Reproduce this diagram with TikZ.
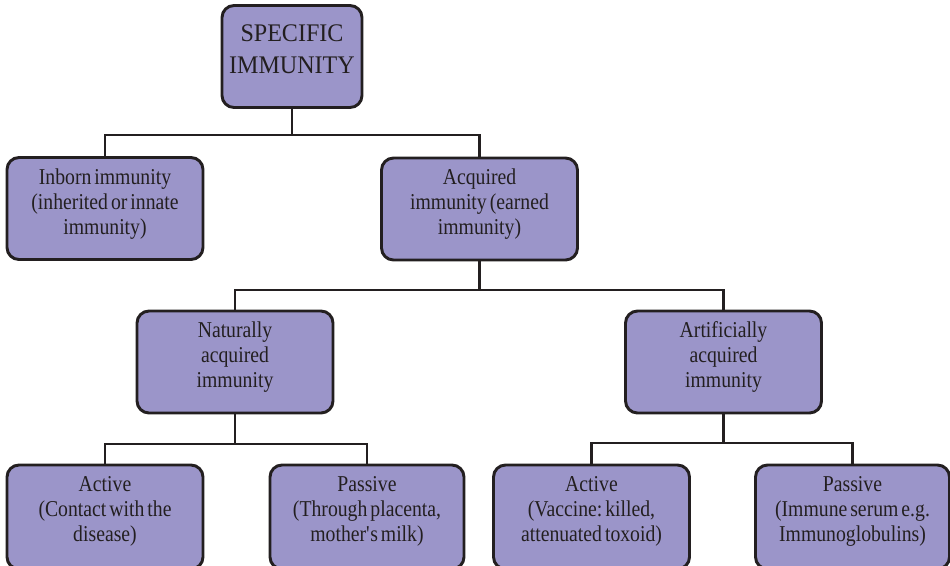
\documentclass[tikz,border=0pt]{standalone}
\usepackage{fontspec}
\setmainfont{Liberation Serif}
\newfontfamily\bodyfont{Liberation Serif}[FakeStretch=0.87, WordSpace=0.6]
\newfontfamily\headfont{Liberation Serif}[FakeStretch=0.95, WordSpace=0.7]
\definecolor{boxfill}{RGB}{155,149,201}
\definecolor{ink}{RGB}{35,31,32}
\frenchspacing
\begin{document}
\begin{tikzpicture}[x=0.75pt,y=-0.75pt,
  box/.style={draw=ink, line width=2.2pt, fill=boxfill, rounded corners=9pt,
              minimum height=76.5pt, inner sep=0pt},
  wbox/.style={box, minimum width=147pt},
  txt/.style={align=center, text=ink, inner sep=0pt,
              font=\bodyfont\fontsize{17pt}{18.75pt}\selectfont},
  bigtxt/.style={align=center, text=ink, inner sep=0pt,
              font=\headfont\fontsize{19pt}{24pt}\selectfont},
  conn/.style={draw=ink, line width=1.6pt}]
\useasboundingbox (0,0) rectangle (950,565);
\begin{scope}
\clip (0,0) rectangle (950,565);

% boxes
\node[box, minimum width=105pt] (top) at (292,56.5) {};
\node[wbox] (inborn) at (105,208.5) {};
\node[wbox] (acq) at (479.5,209) {};
\node[wbox] (nat) at (235,362) {};
\node[wbox] (art) at (723.5,362) {};
\node[wbox, minimum height=78pt] (act1) at (105,517) {};
\node[box, minimum width=145.5pt, minimum height=78pt] (pas1) at (367,517) {};
\node[wbox, minimum height=78pt] (act2) at (591.5,517) {};
\node[box, minimum width=145.5pt, minimum height=78pt] (pas2) at (852.5,517) {};

% labels
\node[bigtxt] (topt) at ([yshift=5.5pt]top.center) {SPECIFIC\\IMMUNITY};
\node[txt] (inbornt) at ([yshift=3.5pt]inborn.center) {Inborn immunity\\(inherited or innate\\immunity)};
\node[txt] (acqt) at ([yshift=3.5pt]acq.center) {Acquired\\immunity (earned\\immunity)};
\node[txt] (natt) at ([yshift=4pt]nat.center) {Naturally\\acquired\\immunity};
\node[txt] (artt) at ([yshift=4pt]art.center) {Artificially\\acquired\\immunity};
\node[txt] (act1t) at ([yshift=4pt]act1.center) {Active\\(Contact with the\\disease)};
\node[txt] (pas1t) at ([yshift=4pt]pas1.center) {Passive\\(Through placenta,\\mother\textquotesingle s milk)};
\node[txt] (act2t) at ([yshift=4pt]act2.center) {Active\\(Vaccine: killed,\\attenuated toxoid)};
\node[txt] (pas2t) at ([yshift=4pt]pas2.center) {Passive\\(Immune serum e.g.\\Immunoglobulins)};

% junction points of the tree
\coordinate (j1) at (292,135);
\coordinate (j2) at (479.5,290);
\coordinate (j3) at (235,444);
\coordinate (j4) at (723.5,443);

% connectors
\draw[conn] (top.south) -- (j1);
\draw[conn] (inborn.north) |- (acq.north |- j1) -- (acq.north);
\draw[conn] (acq.south) -- (j2);
\draw[conn] (nat.north) |- (art.north |- j2) -- (art.north);
\draw[conn] (nat.south) -- (j3);
\draw[conn] (act1.north) |- (pas1.north |- j3) -- (pas1.north);
\draw[conn] (art.south) -- (j4);
\draw[conn] (act2.north) |- (pas2.north |- j4) -- (pas2.north);
\end{scope}
\end{tikzpicture}
\end{document}
